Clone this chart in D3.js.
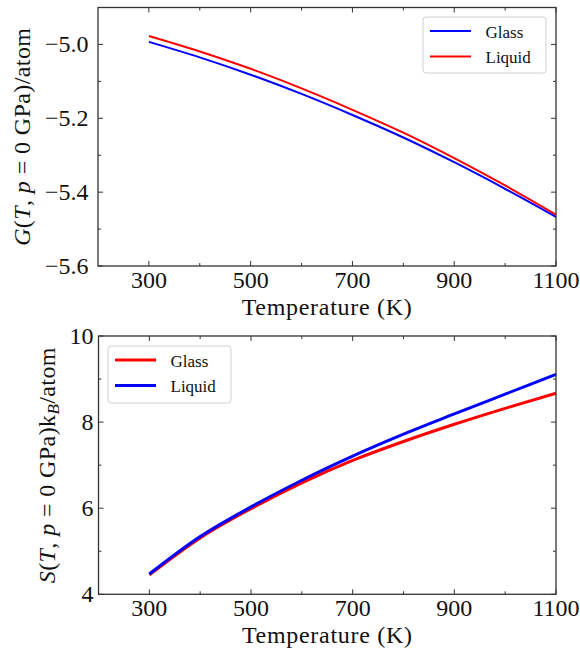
<!DOCTYPE html>
<html>
<head>
<meta charset="utf-8">
<script src="https://cdn.jsdelivr.net/npm/d3@7"></script>
<style>
  html, body { margin: 0; padding: 0; background: #fff; }
  svg { display: block; }
  text { font-family: "Liberation Serif", "Times New Roman", serif; fill: #111; }
</style>
</head>
<body>
<svg id="chart" width="580" height="649" font-family="Liberation Serif, serif"></svg>
<script>
// ---- data ----
const temperatures = [300, 400, 500, 600, 700, 800, 900, 1000, 1100];
const gGlass  = [-4.993, -5.035, -5.082, -5.134, -5.191, -5.252, -5.319, -5.391, -5.467];
const gLiquid = [-4.977, -5.019, -5.066, -5.119, -5.177, -5.239, -5.308, -5.382, -5.461];
const sGlass  = [4.45, 5.31, 5.99, 6.59, 7.11, 7.55, 7.95, 8.32, 8.67];
const sLiquid = [4.47, 5.34, 6.03, 6.65, 7.21, 7.72, 8.19, 8.65, 9.11];
const xTicks = [300, 500, 700, 900, 1100];
const xMinor = [400, 600, 800, 1000];
const gTicks = [-5.6, -5.4, -5.2, -5.0];
const gMinor = [-5.5, -5.3, -5.1];
const sTicks = [4, 6, 8, 10];
const sMinor = [5, 7, 9];

const svg = d3.select("#chart");
const BLUE = "#0000ff", RED = "#ff0000";

function panel(cfg) {
  const x = d3.scaleLinear().domain([200, 1100]).range([cfg.left, cfg.right]);
  const y = d3.scaleLinear().domain(cfg.ydom).range([cfg.bottom, cfg.top]);
  const g = svg.append("g");

  // series
  const line = d3.line().x((d, i) => x(temperatures[i])).y(d => y(d)).curve(d3.curveMonotoneX);
  cfg.series.forEach(s => {
    g.append("path").attr("d", line(s.values)).attr("fill", "none")
      .attr("stroke", s.color).attr("stroke-width", cfg.lw);
  });

  // ticks (inward, all four sides)
  const tk = g.append("g").attr("stroke", "#333").attr("stroke-width", 1);
  const addX = (vals, len) => vals.forEach(v => {
    tk.append("line").attr("x1", x(v)).attr("x2", x(v)).attr("y1", cfg.bottom).attr("y2", cfg.bottom - len);
    tk.append("line").attr("x1", x(v)).attr("x2", x(v)).attr("y1", cfg.top).attr("y2", cfg.top + len);
  });
  const addY = (vals, len) => vals.forEach(v => {
    tk.append("line").attr("y1", y(v)).attr("y2", y(v)).attr("x1", cfg.left).attr("x2", cfg.left + len);
    tk.append("line").attr("y1", y(v)).attr("y2", y(v)).attr("x1", cfg.right).attr("x2", cfg.right - len);
  });
  addX(xTicks, 5); addX(xMinor, 3);
  addY(cfg.yticks, 5); addY(cfg.yminor, 3);

  // frame
  g.append("rect").attr("x", cfg.left).attr("y", cfg.top)
    .attr("width", cfg.right - cfg.left).attr("height", cfg.bottom - cfg.top)
    .attr("fill", "none").attr("stroke", "#333").attr("stroke-width", 1.3);

  // tick labels
  xTicks.forEach(v => {
    g.append("text").attr("x", x(v)).attr("y", cfg.bottom + 21.5)
      .attr("text-anchor", "middle").attr("font-size", 24).text(v);
  });
  cfg.yticks.forEach(v => {
    g.append("text").attr("x", cfg.ylabRight).attr("y", y(v) + 8)
      .attr("text-anchor", "end").attr("font-size", 24).text(cfg.yfmt(v));
  });

  // x axis title
  g.append("text").attr("x", (cfg.left + cfg.right) / 2).attr("y", cfg.bottom + 49)
    .attr("text-anchor", "middle").attr("font-size", 24).attr("letter-spacing", 0.7)
    .text("Temperature (K)");

  // y axis title
  const yt = g.append("text")
    .attr("transform", `translate(${cfg.ytitleX},${(cfg.top + cfg.bottom) / 2}) rotate(-90)`)
    .attr("text-anchor", "middle").attr("font-size", 24).attr("letter-spacing", 0.4);
  cfg.ytitle.forEach(p => {
    const ts = yt.append("tspan").text(p.t);
    if (p.i) ts.attr("font-style", "italic");
    if (p.sub) ts.attr("font-size", 17).attr("baseline-shift", "-4");
  });

  // legend
  const L = cfg.legend;
  const lg = g.append("g");
  lg.append("rect").attr("x", L.x).attr("y", L.y).attr("width", L.w).attr("height", L.h)
    .attr("rx", 3).attr("fill", "#fff").attr("fill-opacity", 0.8)
    .attr("stroke", "#d0d0d0").attr("stroke-width", 1);
  L.items.forEach((it, i) => {
    const yy = L.y + 14 + i * 25.5;
    lg.append("line").attr("x1", L.x + 7).attr("x2", L.x + 48).attr("y1", yy).attr("y2", yy)
      .attr("stroke", it.color).attr("stroke-width", cfg.lw);
    lg.append("text").attr("x", L.x + 62.5).attr("y", yy + 6.5).attr("font-size", 17).text(it.label);
  });
}

panel({
  left: 98, right: 556, top: 7.5, bottom: 266,
  ydom: [-5.6, -4.9], yticks: gTicks, yminor: gMinor,
  yfmt: v => d3.format(".1f")(v).replace("-", "\u2212"),
  ylabRight: 88.5, ytitleX: 29.5, lw: 2,
  series: [{values: gGlass, color: BLUE}, {values: gLiquid, color: RED}],
  ytitle: [{t: "G", i: true}, {t: "("}, {t: "T", i: true}, {t: ", "}, {t: "p", i: true},
           {t: " = 0 GPa)/atom"}],
  legend: {x: 423, y: 17, w: 123, h: 56, items: [{label: "Glass", color: BLUE}, {label: "Liquid", color: RED}]}
});

panel({
  left: 98.5, right: 556, top: 336, bottom: 594.3,
  ydom: [4, 10], yticks: sTicks, yminor: sMinor,
  yfmt: v => String(v),
  ylabRight: 93.5, ytitleX: 55, lw: 3,
  series: [{values: sGlass, color: RED}, {values: sLiquid, color: BLUE}],
  ytitle: [{t: "S", i: true}, {t: "("}, {t: "T", i: true}, {t: ", "}, {t: "p", i: true},
           {t: " = 0 GPa)k"}, {t: "B", i: true, sub: true}, {t: "/atom"}],
  legend: {x: 108, y: 346, w: 123, h: 57, items: [{label: "Glass", color: RED}, {label: "Liquid", color: BLUE}]}
});
</script>
</body>
</html>
